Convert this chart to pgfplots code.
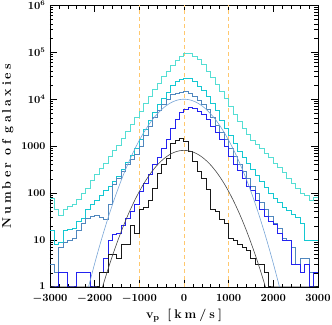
\documentclass[border=0pt]{standalone}
\usepackage{fontspec}
\usepackage{pgfplots}
\pgfplotsset{compat=1.18}
\newfontfamily\labfont[LetterSpace=24]{Latin Modern Roman}
\definecolor{cA}{RGB}{85,222,212}
\definecolor{cB}{RGB}{20,200,210}
\definecolor{cC}{RGB}{80,135,190}
\definecolor{cD}{RGB}{35,35,240}
\definecolor{cE}{RGB}{25,25,25}
\definecolor{gB}{RGB}{120,165,215}
\definecolor{gK}{RGB}{70,70,70}
\definecolor{dashc}{RGB}{255,200,110}
\begin{document}
\begin{tikzpicture}
\useasboundingbox (-50pt,-37pt) rectangle (282pt,287pt);
\begin{axis}[
  scale only axis, width=268pt, height=281.7pt,
  at={(0pt,0pt)}, anchor=south west,
  xmin=-3000, xmax=3000, ymin=1, ymax=1e6, ymode=log,
  axis line style={line width=0.9pt},
  every tick/.style={black, line width=0.7pt},
  tick align=inside,
  major tick length=7pt, minor tick length=3.5pt,
  xtick={-3000,-2000,-1000,0,1000,2000,3000},
  xticklabels={$-3000$,$-2000$,$-1000$,$0$,$1000$,$2000$,$3000$},
  minor x tick num=4,
  ytick={1,10,100,1000,1e4,1e5,1e6},
  yticklabels={\raisebox{2pt}{1},10,100,1000,$10^4$,$10^5$,$10^6$},
  ticklabel style={font=\boldmath\bfseries\fontsize{10.5}{12}\selectfont},
  xticklabel style={yshift=-4pt},
  yticklabel style={xshift=-1pt},
  xlabel={\labfont\bfseries v\textsubscript{p} [km/s]},
  ylabel={\labfont\bfseries Number of galaxies},
  label style={font=\fontsize{12.5}{14}\selectfont},
  xlabel style={at={(axis description cs:0.5,0)}, anchor=north, yshift=-19pt},
  ylabel style={at={(axis description cs:0,0.5)}, anchor=south, yshift=33pt},
  clip=true,
]
\addplot[dashc, line width=0.8pt, dash pattern=on 4pt off 3pt] coordinates {(-1000,1) (-1000,1e6)};
\addplot[dashc, line width=0.8pt, dash pattern=on 4pt off 3pt] coordinates {(0,1) (0,1e6)};
\addplot[dashc, line width=0.8pt, dash pattern=on 4pt off 3pt] coordinates {(1000,1) (1000,1e6)};
% series 1
\addplot[cA, line width=1pt, const plot] coordinates {
(-3000,78)(-2900,44)(-2800,34)(-2700,44)(-2600,52)(-2500,56)(-2400,74)(-2300,100)(-2200,126)(-2100,190)
(-2000,251)(-1900,331)(-1800,437)(-1700,589)(-1600,794)(-1500,1047)(-1400,1479)(-1300,2089)(-1200,2884)(-1100,3981)
(-1000,5495)(-900,7943)(-800,11220)(-700,15850)(-600,21880)(-500,30200)(-400,39810)(-300,52480)(-200,67610)(-100,83180)
(0,95500)(100,93330)(200,83180)(300,69180)(400,54950)(500,39810)(600,28840)(700,20890)(800,14790)(900,10470)
(1000,7079)(1100,4786)(1200,3311)(1300,2344)(1400,1738)(1500,1349)(1600,1072)(1700,891)(1800,708)(1900,562)
(2000,437)(2100,355)(2200,275)(2300,200)(2400,158)(2500,126)(2600,100)(2700,89)(2800,71)(2900,79)(3000,79)};
% series 2
\addplot[cB, line width=1pt, const plot] coordinates {
(-3000,16)(-2900,8)(-2800,9)(-2700,16)(-2600,17)(-2500,18)(-2400,25)(-2300,29)(-2200,44)(-2100,56)
(-2000,71)(-1900,89)(-1800,112)(-1700,141)(-1600,178)(-1500,224)(-1400,316)(-1300,447)(-1200,631)(-1100,891)
(-1000,1413)(-900,2239)(-800,3548)(-700,5248)(-600,7586)(-500,10470)(-400,14130)(-300,19950)(-200,23990)(-100,26920)
(0,28180)(100,27540)(200,23990)(300,19050)(400,15140)(500,11220)(600,7943)(700,5623)(800,3548)(900,2399)
(1000,1660)(1100,1122)(1200,759)(1300,562)(1400,417)(1500,316)(1600,240)(1700,178)(1800,132)(1900,100)
(2000,76)(2100,63)(2200,50)(2300,42)(2400,35)(2500,30)(2600,22)(2700,10)(2800,10)(2900,10)(3000,10)};
% series 3
\addplot[cC, line width=1pt, const plot] coordinates {
(-3000,3)(-2900,2)(-2800,7)(-2700,9)(-2600,10)(-2500,11)(-2400,16)(-2300,22)(-2200,29)(-2100,32)
(-2000,33)(-1900,30)(-1800,28)(-1700,56)(-1600,150)(-1500,200)(-1400,282)(-1300,398)(-1200,525)(-1100,661)
(-1000,1000)(-900,1660)(-800,2630)(-700,3981)(-600,5623)(-500,7586)(-400,9772)(-300,12300)(-200,13180)(-100,14130)
(0,14450)(100,13180)(200,11220)(300,9550)(400,7586)(500,5888)(600,4169)(700,2818)(800,1995)(900,1413)
(1000,891)(1100,603)(1200,398)(1300,282)(1400,200)(1500,141)(1600,100)(1700,63)(1800,45)(1900,32)
(2000,22)(2100,18)(2200,11)(2300,10)(2400,7)(2500,3)(2600,4)(2700,4)(2800,2)(2900,1)(3000,1)};
% series 4
\addplot[cD, line width=1pt, const plot] coordinates {
(-3000,1)(-2900,1)(-2800,2)(-2700,2)(-2600,1)(-2500,1)(-2400,2)(-2300,2)(-2200,2)(-2100,1)
(-2000,1)(-1900,2)(-1800,4)(-1700,10)(-1600,13)(-1500,14)(-1400,20)(-1300,29)(-1200,40)(-1100,56)
(-1000,107)(-900,158)(-800,251)(-700,398)(-600,562)(-500,891)(-400,1413)(-300,2399)(-200,3631)(-100,5248)
(0,6026)(100,6761)(200,6310)(300,5495)(400,4677)(500,3631)(600,2630)(700,1995)(800,1413)(900,1000)
(1000,603)(1100,398)(1200,302)(1300,200)(1400,141)(1500,112)(1600,71)(1700,45)(1800,32)(1900,25)
(2000,21)(2100,14)(2200,10)(2300,10)(2400,3)(2500,3)(2600,2)(2700,3)(2800,1)(2900,2)(3000,2)};
% series 5
\addplot[cE, line width=1pt, const plot] coordinates {
(-3000,1)(-2900,1)(-2800,1)(-2700,1)(-2600,1)(-2500,1)(-2400,1)(-2300,1)(-2200,1)(-2100,1)
(-2000,1)(-1900,2)(-1800,2)(-1700,5)(-1600,5)(-1500,4)(-1400,8)(-1300,8)(-1200,20)(-1100,14)
(-1000,44)(-900,50)(-800,71)(-700,126)(-600,263)(-500,398)(-400,550)(-300,1148)(-200,1349)(-100,1479)
(0,1259)(100,760)(200,468)(300,282)(400,200)(500,117)(600,44)(700,40)(800,27)(900,22)
(1000,11)(1100,10)(1200,8)(1300,7)(1400,6)(1500,4)(1600,3)(1700,3)(1800,2)(1900,1)
(2000,1)(2100,1)(2200,1)(2300,1)(2400,1)(2500,1)(2600,1)(2700,1)(2800,1)(2900,1)(3000,1)};
% gaussian fits
\addplot[gB, line width=0.6pt, smooth] coordinates {
(-2200,0.58)(-2100,1.38)(-2000,3.16)(-1900,6.94)(-1800,14.6)(-1700,29.6)(-1600,57.5)(-1500,107.5)(-1400,192.8)(-1300,332)
(-1200,549.5)(-1100,873.6)(-1000,1334)(-900,1955)(-800,2754)(-700,3725)(-600,4842)(-500,6042)(-400,7244)(-300,8342)
(-200,9226)(-100,9800)(0,10000)(100,9800)(200,9226)(300,8342)(400,7244)(500,6042)(600,4842)(700,3725)
(800,2754)(900,1955)(1000,1334)(1100,873.6)(1200,549.5)(1300,332)(1400,192.8)(1500,107.5)(1600,57.5)(1700,29.6)
(1800,14.6)(1900,6.94)(2000,3.16)(2100,1.38)(2200,0.58)};
\addplot[gK, line width=0.6pt, smooth] coordinates {
(-1900,0.56)(-1800,1.19)(-1700,2.41)(-1600,4.68)(-1500,8.74)(-1400,15.7)(-1300,27.0)(-1200,44.7)(-1100,71.0)(-1000,108.4)
(-900,159)(-800,224)(-700,303)(-600,394)(-500,491)(-400,589)(-300,678)(-200,750)(-100,796.5)(0,813)
(100,796.5)(200,750)(300,678)(400,589)(500,491)(600,394)(700,303)(800,224)(900,159)(1000,108.4)
(1100,71.0)(1200,44.7)(1300,27.0)(1400,15.7)(1500,8.74)(1600,4.68)(1700,2.41)(1800,1.19)(1900,0.56)};
\end{axis}
\end{tikzpicture}
\end{document}
